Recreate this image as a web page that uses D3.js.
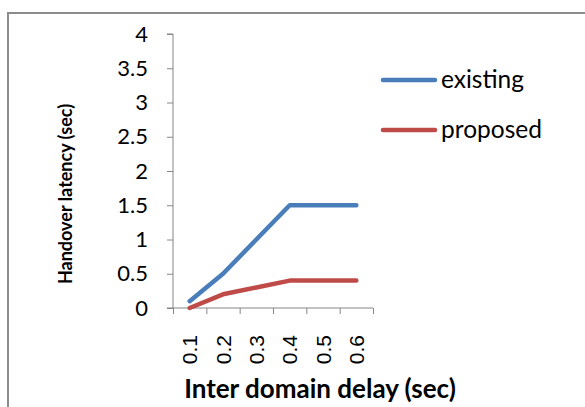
<!DOCTYPE html>
<html><head><meta charset="utf-8">
<script src="https://cdn.jsdelivr.net/npm/d3@7"></script>
<style>body{margin:0;background:#fff}svg{display:block}</style>
</head><body>
<svg id="c" width="585" height="407"></svg>
<script>
const categories = ["0.1","0.2","0.3","0.4","0.5","0.6"];
const existing = [0.1, 0.5, 1.0, 1.5, 1.5, 1.5];
const proposed = [0.0, 0.2, 0.3, 0.4, 0.4, 0.4];
const yTicks = [0, 0.5, 1, 1.5, 2, 2.5, 3, 3.5, 4];
const seriesNames = ["existing", "proposed"];
const seriesColors = ["#4A7EBB", "#BE4B48"];

const svg = d3.select("#c");
svg.append("rect").attr("width",585).attr("height",407).attr("fill","#fff");
svg.append("rect").attr("x",8).attr("y",13).attr("width",620).attr("height",440)
  .attr("fill","none").attr("stroke","#8c8c8c").attr("stroke-width",2);

const x0 = 173, x1 = 373, yb = 308, yt = 34;
const x = d3.scaleBand().domain(categories).range([x0,x1]);
const xEdge = d3.scaleLinear().domain([0,categories.length]).range([x0,x1]);
const y = d3.scaleLinear().domain([0,4]).range([yb,yt]);

// y axis
const ya = svg.append("g").attr("transform",`translate(${x0},0)`)
  .call(d3.axisLeft(y).tickValues(yTicks).tickSize(6).tickPadding(19).tickFormat(d=>String(d)));
ya.select(".domain").attr("stroke","#868686").attr("d",`M-6,${yt}H0V${yb}H-6`);
ya.selectAll(".tick line").attr("stroke","#868686");
ya.selectAll(".tick text").attr("font-family","Lato, 'Open Sans', sans-serif").attr("font-size",22).attr("fill","#000");

// x axis tick marks
const xe = svg.append("g").attr("transform",`translate(0,${yb})`)
  .call(d3.axisBottom(xEdge).ticks(categories.length).tickSize(6).tickFormat(""));
xe.select(".domain").attr("stroke","#868686").attr("d",`M${x0},0H${x1}`);
xe.selectAll(".tick line").attr("stroke","#868686");

// x labels
const xl = svg.append("g").attr("transform",`translate(0,${yb})`)
  .call(d3.axisBottom(x).tickSize(0).tickPadding(0));
xl.select(".domain").remove();
xl.selectAll(".tick text")
  .attr("font-family","'Liberation Sans', Arial, sans-serif").attr("font-size",21).attr("fill","#000")
  .attr("transform","rotate(-90)").attr("text-anchor","end")
  .attr("x",-27).attr("y",0).attr("dy","0.36em");

// lines
const line = d3.line().x((d,i)=>x(categories[i])+x.bandwidth()/2).y(d=>y(d));
[existing, proposed].forEach((s,k)=>{
  svg.append("path").datum(s).attr("d",line).attr("fill","none")
    .attr("stroke",seriesColors[k]).attr("stroke-width",4.5)
    .attr("stroke-linejoin","round").attr("stroke-linecap","round");
});

// legend
seriesNames.forEach((n,k)=>{
  const ly = 80 + k*50;
  svg.append("line").attr("x1",383).attr("x2",435).attr("y1",ly).attr("y2",ly)
    .attr("stroke",seriesColors[k]).attr("stroke-width",4.5).attr("stroke-linecap","round");
  svg.append("text").attr("x",441).attr("y",ly+8).text(n)
    .attr("font-family","Lato, 'Open Sans', sans-serif").attr("font-size",24.5).attr("fill","#000");
});

// axis titles
svg.append("text").attr("transform","translate(72,194) rotate(-90)").attr("text-anchor","middle")
  .attr("font-family","Lato, 'Open Sans', sans-serif").attr("font-weight","bold").attr("font-size",18)
  .text("Handover latency (sec)");
svg.append("text").attr("x",320).attr("y",398).attr("text-anchor","middle")
  .attr("font-family","Lato, 'Open Sans', sans-serif").attr("font-weight","bold").attr("font-size",26)
  .text("Inter domain delay (sec)");
</script>
</body></html>
